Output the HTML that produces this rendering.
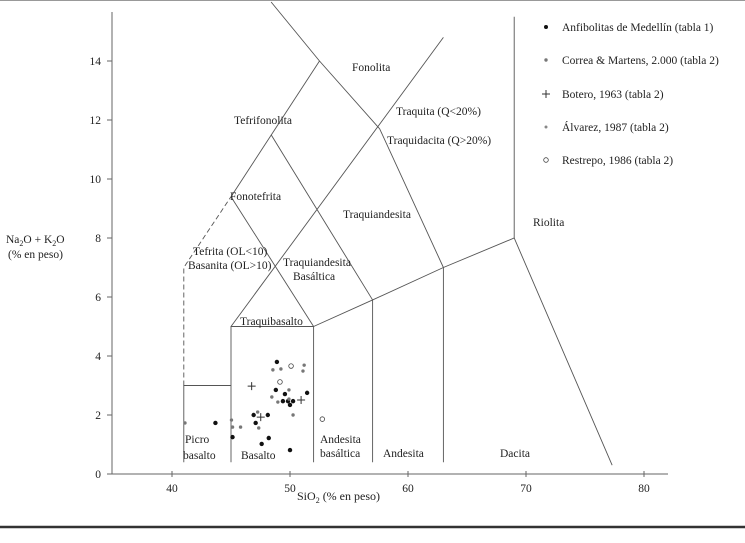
<!DOCTYPE html>
<html><head><meta charset="utf-8"><style>
html,body{margin:0;padding:0;background:#fff}
svg{display:block;font-family:"Liberation Serif","DejaVu Serif",serif}
svg text{font-family:"Liberation Serif","DejaVu Serif",serif;fill:#222}
</style></head><body>
<svg width="745" height="543" viewBox="0 0 745 543" font-family="Liberation Serif, serif">
<line x1="0" y1="0.5" x2="745" y2="0.5" stroke="#999" stroke-width="1"/>
<line x1="0" y1="527" x2="745" y2="527" stroke="#333" stroke-width="2.5"/>
<g id="axes"></g>
<g id="fields" stroke="#555" stroke-width="0.9" fill="none"></g>
<g id="labels" font-size="11.5">
<text x="352" y="71">Fonolita</text>
<text x="234" y="124">Tefrifonolita</text>
<text x="396" y="115">Traquita (Q&lt;20%)</text>
<text x="387" y="144">Traquidacita (Q&gt;20%)</text>
<text x="230" y="200">Fonotefrita</text>
<text x="343" y="218">Traquiandesita</text>
<text x="533" y="226">Riolita</text>
<text x="193" y="255">Tefrita (OL&lt;10)</text>
<text x="188" y="269">Basanita (OL&gt;10)</text>
<text x="283" y="266">Traquiandesita</text>
<text x="293" y="280">Basáltica</text>
<text x="240" y="325">Traquibasalto</text>
<text x="185" y="443">Picro</text>
<text x="183" y="459">basalto</text>
<text x="241" y="459">Basalto</text>
<text x="320" y="443">Andesita</text>
<text x="320" y="457">basáltica</text>
<text x="383" y="457">Andesita</text>
<text x="500" y="457">Dacita</text>
</g>
<g font-size="11.5">
<text x="6" y="243">Na<tspan font-size="8" dy="3">2</tspan><tspan dy="-3">O + K</tspan><tspan font-size="8" dy="3">2</tspan><tspan dy="-3">O</tspan></text>
<text x="8" y="258">(% en peso)</text>
</g>
<text x="297" y="500" font-size="12">SiO<tspan font-size="8" dy="3">2</tspan><tspan dy="-3"> (% en peso)</tspan></text>
<g id="points"></g>
<g id="legend" font-size="11.5">
<g><circle cx="546" cy="27" r="2" fill="#111"/><text x="562" y="31">Anfibolitas de Medellín (tabla 1)</text></g>
<g><circle cx="546" cy="60" r="1.7" fill="#777"/><text x="562" y="64">Correa &amp; Martens, 2.000 (tabla 2)</text></g>
<g><path d="M542 94h8M546 90v8" stroke="#333" stroke-width="1"/><text x="562" y="98">Botero, 1963 (tabla 2)</text></g>
<g><circle cx="546" cy="127" r="1.5" fill="#888"/><text x="562" y="131">Álvarez, 1987 (tabla 2)</text></g>
<g><circle cx="546" cy="160" r="2.3" fill="none" stroke="#444" stroke-width="0.8"/><text x="562" y="164">Restrepo, 1986 (tabla 2)</text></g>
</g>
</svg>
<script>
const xTicks=[40,50,60,70,80];
const yTicks=[0,2,4,6,8,10,12,14];
const anfSi=[48.8,49.57,49.4,49.83,50.26,51.45,50.0,46.92,48.12,47.09,48.2,47.6,50.0,45.13,43.68,48.89];
const anfAlk=[2.85,2.71,2.47,2.47,2.47,2.75,2.34,2.0,2.0,1.73,1.22,1.02,0.81,1.25,1.73,3.8];
const corSi=[41.1,45.04,45.13,45.81,47.35,47.26,48.46,48.97,49.91,49.91,50.26,48.55,49.23,51.2,51.1];
const corAlk=[1.73,1.83,1.59,1.59,1.56,2.1,2.61,2.44,2.85,2.54,2.0,3.53,3.56,3.69,3.49];
const botSi=[46.75,47.52,50.94];
const botAlk=[2.98,1.93,2.51];
const resSi=[50.09,49.15,52.74];
const resAlk=[3.66,3.12,1.86];
const NS='http://www.w3.org/2000/svg';
function X(v){return 172+(v-40)*11.8;}
function Y(v){return 474-v*29.5;}
function mk(tag,attrs,parent){const e=document.createElementNS(NS,tag);for(const k in attrs)e.setAttribute(k,attrs[k]);parent.appendChild(e);return e;}
const axes=document.getElementById('axes');
let a=mk('line',{x1:112,y1:474,x2:668,y2:474,stroke:'#666','stroke-width':1},axes);


a=mk('line',{x1:112,y1:12,x2:112,y2:474,stroke:'#666','stroke-width':1},axes);


xTicks.forEach(v=>{
 mk('line',{x1:X(v),y1:471,x2:X(v),y2:477,stroke:'#666'},axes);
 const t=mk('text',{x:X(v),y:492,'text-anchor':'middle','font-size':11.5},axes);t.textContent=v;
 
 
});
yTicks.forEach(v=>{
 mk('line',{x1:107,y1:Y(v),x2:112,y2:Y(v),stroke:'#666'},axes);
 const t=mk('text',{x:101,y:Y(v)+4,'text-anchor':'end','font-size':11.5},axes);t.textContent=v;
 
 
});
const fields=document.getElementById('fields');
const polys=[
 [[41,0.4],[41,3],[45,3]],
 [[45,0.4],[45,5],[52,5],[52,0.4]],
 [[57,0.4],[57,5.9]],[[63,0.4],[63,7]],
 [[52,5],[57,5.9],[63,7],[69,8],[77.3,0.3]],
 [[69,8],[69,15.5]],
 [[45,5],[63,14.8]],
 [[45,9.4],[52,5]],
 [[48.4,11.5],[57,5.9]],
 [[48.4,16],[52.5,14],[57.6,11.7],[63,7]],
 [[45,9.4],[52.5,14]]
];
polys.forEach(p=>{const e=mk('polyline',{points:p.map(q=>X(q[0])+','+Y(q[1])).join(' ')},fields);
 
 });
const d=mk('polyline',{points:[[41,3],[41,7],[45,9.4]].map(q=>X(q[0])+','+Y(q[1])).join(' '),'stroke-dasharray':'5,3'},fields);


const pts=document.getElementById('points');
anfSi.forEach((s,i)=>{const c=mk('circle',{cx:X(s),cy:Y(anfAlk[i]),r:2.2,fill:'#111'},pts);
 
 });
corSi.forEach((s,i)=>{const c=mk('circle',{cx:X(s),cy:Y(corAlk[i]),r:1.7,fill:'#777'},pts);
 
 });
botSi.forEach((s,i)=>{const x=X(s),y=Y(botAlk[i]);const c=mk('path',{d:`M${x-4} ${y}h8M${x} ${y-4}v8`,stroke:'#333','stroke-width':1},pts);
 
 });
resSi.forEach((s,i)=>{const c=mk('circle',{cx:X(s),cy:Y(resAlk[i]),r:2.3,fill:'none',stroke:'#444','stroke-width':0.8},pts);
 
 });
</script>
</body></html>
